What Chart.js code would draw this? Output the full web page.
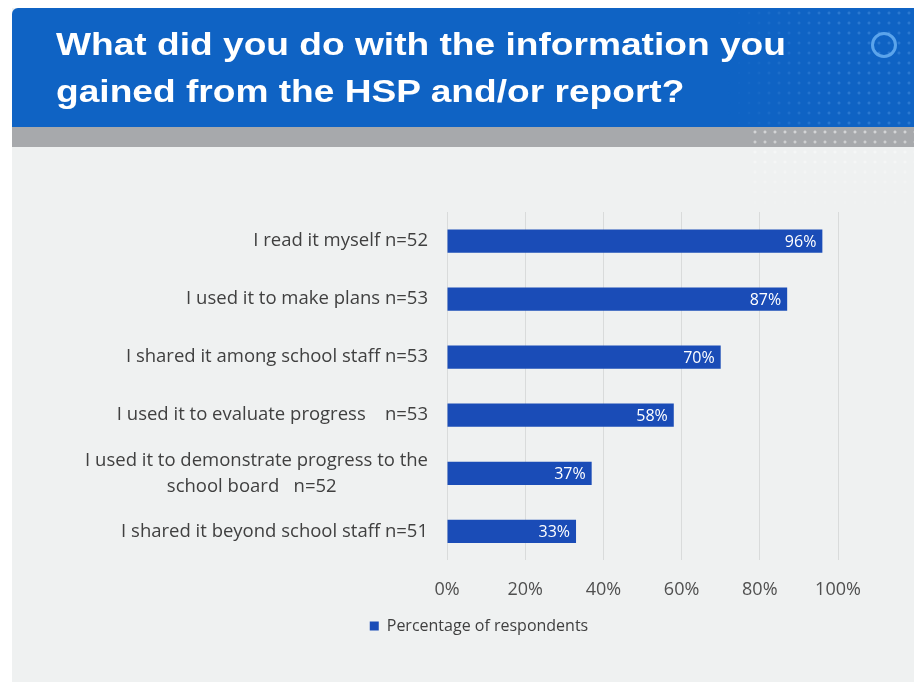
<!DOCTYPE html>
<html>
<head>
<meta charset="utf-8">
<script src="https://cdn.jsdelivr.net/npm/chart.js@4.4.0/dist/chart.umd.min.js"></script>
<style>
  html, body { margin: 0; padding: 0; background: #ffffff; }
  body { width: 914px; height: 682px; position: relative; overflow: hidden; }
  #slide { position: absolute; left: 12px; top: 8px; width: 902px; height: 674px; background: #eff1f1; }
  #banner { position: absolute; left: 12px; top: 8px; width: 902px; height: 119px; background: #0f63c4; border-radius: 6px 0 0 0; overflow: hidden; }
  #dots { position: absolute; right: 0; top: 0; width: 190px; height: 119px;
    background-image: radial-gradient(circle, rgba(120,180,240,0.5) 1.2px, transparent 1.8px);
    background-size: 10px 10px; opacity: 0.55;
    -webkit-mask-image: linear-gradient(to right, transparent, #000 60%); }
  #dots2 { position: absolute; left: 750px; top: 127px; width: 164px; height: 90px;
    background-image: radial-gradient(circle, rgba(255,255,255,0.9) 1.2px, transparent 1.8px);
    background-size: 10px 10px; opacity: 0.6;
    -webkit-mask-image: linear-gradient(to bottom, #000, transparent); }
  #ring { position: absolute; left: 871px; top: 32px; width: 20px; height: 20px; border: 3px solid rgba(110,180,245,0.8); border-radius: 50%; }
  #band { position: absolute; left: 12px; top: 127px; width: 902px; height: 20px; background: #a7a9ac; }
  #title { position: absolute; left: 56px; top: 21px; color: #ffffff; font-family: "Liberation Sans", Arial, sans-serif; font-weight: bold; font-size: 32px; line-height: 47px; white-space: nowrap; transform: scaleX(1.16); transform-origin: 0 0; }
  #wrap { position: absolute; left: 0; top: 150px; width: 914px; height: 530px; }
</style>
</head>
<body>
<div id="slide"></div>
<div id="banner"><div id="dots"></div></div>
<div id="band"></div>
<div id="dots2"></div>
<div id="ring"></div>
<div id="title">What did you do with the information you<br>gained from the HSP and/or report?</div>
<div id="wrap"><canvas id="c" width="914" height="530"></canvas></div>
<script>
const categories = [
  'I read it myself n=52',
  'I used it to make plans n=53',
  'I shared it among school staff n=53',
  'I used it to evaluate progress    n=53',
  ['I used it to demonstrate progress to the', 'school board   n=52'],
  'I shared it beyond school staff n=51'
];
const values = [96, 87, 70, 58, 37, 33];
const seriesName = 'Percentage of respondents';
const xTicks = [0, 20, 40, 60, 80, 100];

const barColor = '#1a4cb7';
const FONT = '"Open Sans", Lato, sans-serif';

const valueLabels = {
  id: 'valueLabels',
  afterDatasetsDraw(chart) {
    const ctx = chart.ctx;
    const meta = chart.getDatasetMeta(0);
    ctx.save();
    ctx.fillStyle = '#ffffff';
    ctx.font = '16px ' + FONT;
    ctx.textAlign = 'right';
    ctx.textBaseline = 'middle';
    meta.data.forEach((bar, i) => {
      ctx.fillText(values[i] + '%', bar.x - 6, bar.y + 1);
    });
    ctx.restore();
  }
};

// nudge the legend to sit under the plot like the original
const legendShift = {
  id: 'legendShift',
  afterLayout(chart) {
    const lg = chart.legend;
    if (lg) { lg.left += 54; lg.right += 54; lg.top -= 8; lg.bottom -= 8; }
  }
};

new Chart(document.getElementById('c'), {
  type: 'bar',
  data: {
    labels: categories,
    datasets: [{
      label: seriesName,
      data: values,
      backgroundColor: barColor,
      borderWidth: 0,
      barPercentage: 0.8,
      categoryPercentage: 0.5
    }]
  },
  options: {
    indexAxis: 'y',
    responsive: false,
    animation: false,
    devicePixelRatio: 1,
    layout: { padding: { left: 12, right: 76, top: 62, bottom: 28 } },
    scales: {
      x: {
        min: 0, max: 100,
        afterBuildTicks(axis) { axis.ticks = xTicks.map(v => ({ value: v })); },
        ticks: {
          callback: v => v + '%',
          color: '#505050',
          font: { family: FONT, size: 18 },
          padding: 19
        },
        grid: { color: '#d9dbdb', lineWidth: 1, drawTicks: false },
        border: { display: false }
      },
      y: {
        afterFit(axis) { axis.width = 435; },
        ticks: {
          color: '#404040',
          font: { family: FONT, size: 18.5, lineHeight: 1.4 },
          padding: 19,
          callback(v) {
            const l = categories[v];
            if (Array.isArray(l)) {
              return [l[0], l[1] + '\u0020'.repeat(19)];
            }
            return l;
          }
        },
        grid: { display: false, drawTicks: false },
        border: { display: false }
      }
    },
    plugins: {
      legend: {
        position: 'bottom',
        labels: {
          color: '#404040',
          font: { family: FONT, size: 16 },
          boxWidth: 9, boxHeight: 9,
          padding: 6
        }
      },
      tooltip: { enabled: false }
    }
  },
  plugins: [valueLabels, legendShift]
});
</script>
</body>
</html>
